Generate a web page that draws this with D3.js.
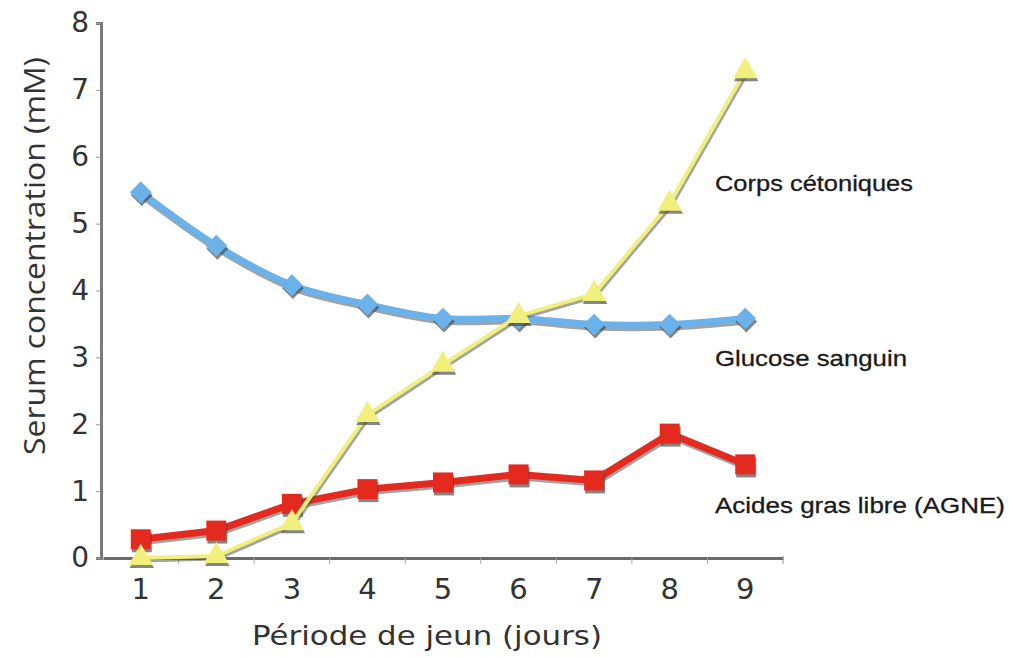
<!DOCTYPE html>
<html><head><meta charset="utf-8">
<script src="https://cdn.jsdelivr.net/npm/d3@7"></script>
<style>body{margin:0;background:#fff}svg{display:block}</style>
</head><body><svg id="c" width="1010" height="657"></svg>
<script>
const days = [1,2,3,4,5,6,7,8,9];
const glucose = [5.47,4.67,4.08,3.79,3.58,3.58,3.49,3.49,3.58];
const ketones = [0,0.03,0.52,2.14,2.89,3.62,3.95,5.3,7.28];
const ffa = [0.28,0.41,0.81,1.03,1.13,1.25,1.16,1.86,1.4];
const yTicks = [0,1,2,3,4,5,6,7,8];
const seriesLabels = ["Corps cétoniques","Glucose sanguin","Acides gras libre (AGNE)"];
const xTitle = "Période de jeun (jours)";
const yTitle = "Serum concentration (mM)";

const svg = d3.select("#c");
const x = d3.scaleBand().domain(days).range([103,783]);
const y = d3.scaleLinear().domain([0,8]).range([558,23]);
const cx = d => x(d)+x.bandwidth()/2;
const numFont = "Verdana, DejaVu Sans, sans-serif";

// y axis
const ya = svg.append("g").attr("transform","translate(101,0)")
  .call(d3.axisLeft(y).tickValues(yTicks).tickSize(5).tickPadding(7));
ya.select(".domain").attr("stroke","#7a7a7a").attr("stroke-width",3);
ya.selectAll(".tick line").attr("stroke","#999");
ya.selectAll("text").attr("font-family",numFont).attr("font-size",28).attr("fill","#333");

// x axis
const xa = svg.append("g").attr("transform","translate(0,558)")
  .call(d3.axisBottom(x).tickSize(0).tickPadding(20));
xa.select(".domain").attr("stroke","#6a6a6a").attr("stroke-width",3);
xa.selectAll("text").attr("font-family",numFont).attr("font-size",29).attr("fill","#333");
svg.append("g").selectAll("line").data(days.slice(1)).join("line")
  .attr("x1",d=>x(d)).attr("x2",d=>x(d)).attr("y1",558).attr("y2",564)
  .attr("stroke","#aaa").attr("stroke-width",1);
svg.append("line").attr("x1",783).attr("x2",783).attr("y1",556).attr("y2",564).attr("stroke","#999");

// titles
svg.append("text").attr("x",427).attr("y",645).attr("text-anchor","middle")
  .attr("font-family",numFont).attr("font-size",27).attr("fill","#333")
  .attr("textLength",350).attr("lengthAdjust","spacingAndGlyphs").text(xTitle);
svg.append("text").attr("transform","translate(45,256) rotate(-90)").attr("text-anchor","middle")
  .attr("font-family","Open Sans, Noto Sans, sans-serif").attr("font-size",29).attr("fill","#333")
  .attr("textLength",398).attr("lengthAdjust","spacingAndGlyphs").text(yTitle);

function drawSeries(vals, color, width, curve, marker, msize, rot){
  const line = d3.line().x((v,i)=>cx(days[i])).y(v=>y(v)).curve(curve);
  const g = svg.append("g");
  g.append("path").attr("d",line(vals)).attr("transform","translate(1,2)")
    .attr("fill","none").attr("stroke","#555").attr("stroke-opacity",0.55).attr("stroke-width",width+1).attr("stroke-linejoin","round");
  g.append("path").attr("d",line(vals)).attr("fill","none").attr("stroke",color).attr("stroke-width",width).attr("stroke-linejoin","round");
  const sym = d3.symbol().type(marker).size(msize);
  g.selectAll("path.sh").data(vals).join("path").attr("class","sh")
    .attr("d",sym).attr("transform",(v,i)=>`translate(${cx(days[i])+1},${y(v)+3}) rotate(${rot})`).attr("fill","#444").attr("opacity",0.65);
  g.selectAll("path.mk").data(vals).join("path").attr("class","mk")
    .attr("d",sym).attr("transform",(v,i)=>`translate(${cx(days[i])},${y(v)}) rotate(${rot})`).attr("fill",color);
}
drawSeries(glucose,"#6cb2ea",7,d3.curveCatmullRom,d3.symbolSquare,240,45);
drawSeries(ffa,"#e42a1f",7,d3.curveLinear,d3.symbolSquare,400,0);
drawSeries(ketones,"#f2f07c",4,d3.curveLinear,d3.symbolTriangle,260,0);

const lab = [[seriesLabels[0],191,198],[seriesLabels[1],366,192],[seriesLabels[2],513,290]];
svg.append("g").selectAll("text").data(lab).join("text")
  .attr("x",715).attr("y",d=>d[1]).attr("font-family","Liberation Sans, Arial, sans-serif")
  .attr("font-size",22).attr("fill","#1a1a1a").attr("stroke","#1a1a1a").attr("stroke-width",0.3)
  .attr("textLength",d=>d[2]).attr("lengthAdjust","spacingAndGlyphs").text(d=>d[0]);
</script></body></html>
